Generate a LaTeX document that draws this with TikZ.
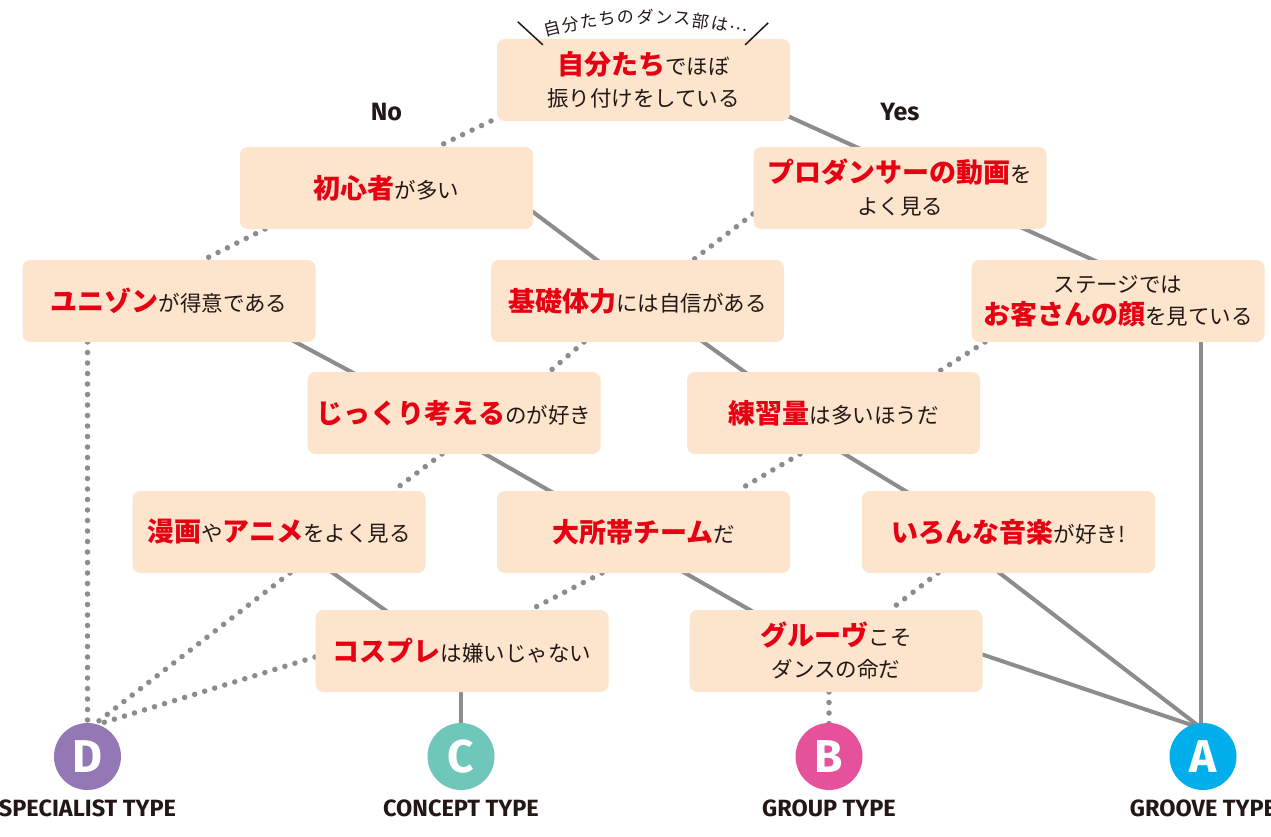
\documentclass[tikz,border=0pt]{standalone}
\usepackage{fontspec}
\setmainfont{Fira Sans}
\newfontfamily\jp{Noto Sans CJK JP}
\newfontfamily\din{Fira Sans}
\usetikzlibrary{calc,backgrounds}
\definecolor{jred}{HTML}{E60012}
\definecolor{jink}{HTML}{231815}
\definecolor{boxfill}{HTML}{FCE4CD}
\definecolor{lgray}{HTML}{8C8C8C}
\definecolor{cD}{HTML}{9478B6}
\definecolor{cC}{HTML}{6FC7B9}
\definecolor{cB}{HTML}{E5529B}
\definecolor{cA}{HTML}{00AEEB}
\newcommand\redtxt[1]{{\color{jred}\bfseries\fontsize{27}{32}\selectfont #1}}
\tikzset{
  qbox/.style={fill=boxfill, rounded corners=8pt, minimum width=293pt, minimum height=82pt,
    inner sep=0pt, align=center, text=jink, font=\jp\fontsize{21.5}{32}\selectfont},
  soll/.style={draw=lgray, line width=4pt},
  dotl/.style={draw=lgray, line width=5.5pt, line cap=round, dash pattern=on 0pt off 10.5pt},
  typecirc/.style={circle, minimum size=67pt, inner sep=0pt, text=white, font=\din\bfseries\fontsize{46}{46}\selectfont},
  typelbl/.style={text=jink, font=\din\bfseries\fontsize{23.5}{24}\selectfont, inner sep=0pt},
  yn/.style={text=jink, font=\din\bfseries\fontsize{25}{25}\selectfont, inner sep=0pt},
  arcch/.style={text=jink, font=\jp\fontsize{17}{17}\selectfont, inner sep=0pt},
  tick/.style={draw=jink, line width=1.5pt}
}
\begin{document}
\begin{tikzpicture}[x=1pt,y=-1pt]
\useasboundingbox (0,0) rectangle (1271,837);

% question boxes
\node[qbox] (b1) at (643.5,80) {\redtxt{自分たち}でほぼ\\振り付けをしている};
\node[qbox] (b2) at (386.5,188) {\redtxt{初心者}が多い};
\node[qbox] (b3) at (900,188) {\redtxt{プロダンサーの動画}を\\よく見る};
\node[qbox] (b4) at (169,301) {\redtxt{ユニゾン}が得意である};
\node[qbox] (b5) at (637.5,301) {\redtxt{基礎体力}には自信がある};
\node[qbox] (b6) at (1118,301) {ステージでは\\\redtxt{お客さんの顔}を見ている};
\node[qbox] (b7) at (454,413) {\redtxt{じっくり考える}のが好き};
\node[qbox] (b8) at (833.5,413) {\redtxt{練習量}は多いほうだ};
\node[qbox] (b9) at (279,532) {\redtxt{漫画}や\redtxt{アニメ}をよく見る};
\node[qbox] (b10) at (643.5,532) {\redtxt{大所帯チーム}だ};
\node[qbox] (b11) at (1008.5,532) {\redtxt{いろんな音楽}が好き!};
\node[qbox] (b12) at (462,651) {\redtxt{コスプレ}は嫌いじゃない};
\node[qbox] (b13) at (836,651) {\redtxt{グルーヴ}こそ\\ダンスの命だ};

% result circles
\node[typecirc, fill=cD] (D) at (87.5,756.5) {D};
\node[typecirc, fill=cC] (C) at (461,756.5) {C};
\node[typecirc, fill=cB] (B) at (829,756.5) {B};
\node[typecirc, fill=cA] (A) at (1203,756.5) {A};
\node[typelbl] (lD) at (87.5,808) {SPECIALIST TYPE};
\node[typelbl] (lC) at (461,808) {CONCEPT TYPE};
\node[typelbl] (lB) at (829,808) {GROUP TYPE};
\node[typelbl] (lA) at (1203,808) {GROOVE TYPE};

% No / Yes
\node[yn] (no) at (386.5,112) {No};
\node[yn] (yes) at (900,112) {Yes};

% arc heading
\foreach \c [count=\i] in {自,分,た,ち,の,ダ,ン,ス,部,は,…} {
  \pgfmathsetmacro\t{(\i-6)*2.8}
  \node[arcch, rotate=-\t] (arc\i) at ({645+385*sin(\t)},{402-385*cos(\t)}) {\c};
}
\draw[tick] ($(b1.north west)+(21,-17)$) -- ($(b1.north west)+(46,6)$);
\draw[tick] ($(b1.north east)+(-22,-16)$) -- ($(b1.north east)+(-45,6)$);

\begin{pgfonlayer}{background}
\fill[white] (0,0) rectangle (1271,837);
\draw[dotl] ($(b1)+(-152.5,41)$) -- ($(b2)+(50.5,-41)$);
\draw[soll] ($(b1)+(137.5,33)$) -- ($(b3)+(-35,-37)$);
\draw[dotl] ($(b2)+(-121.5,41)$) -- ($(b4)+(34,-41)$);
\draw[soll] ($(b2)+(138.5,18)$) -- ($(b5)+(-32.5,-35)$);
\draw[dotl] ($(b3)+(-147,26)$) -- ($(b5)+(55.5,-41)$);
\draw[soll] ($(b3)+(118,38)$) -- ($(b6)+(-18,-38)$);
\draw[soll] ($(b4)+(119,37)$) -- ($(b7)+(-95,-37)$);
\draw[dotl] ($(b4)+(-81.5,41)$) -- ($(D)+(0,-33)$);
\draw[dotl] ($(b5)+(-53.5,41)$) -- ($(b7)+(95,-41)$);
\draw[soll] ($(b5)+(57.5,35)$) -- ($(b8)+(-80.5,-35)$);
\draw[dotl] ($(b6)+(-133,41)$) -- ($(b8)+(104.5,-41)$);
\draw[soll] ($(b6)+(83,30)$) -- ($(A)+(-2,-31)$);
\draw[dotl] ($(b7)+(-12,41)$) -- ($(b9)+(114,-41)$);
\draw[soll] ($(b7)+(24,37)$) -- ($(b10)+(-86.5,-37)$);
\draw[dotl] ($(b8)+(-33.5,41)$) -- ($(b10)+(93.5,-41)$);
\draw[soll] ($(b8)+(4.5,37)$) -- ($(b11)+(-96.5,-37)$);
\draw[dotl] ($(b9)+(11,41)$) -- ($(D)+(8,-33)$);
\draw[soll] ($(b9)+(47,36)$) -- ($(b12)+(-70,-36)$);
\draw[dotl] ($(b10)+(-41.5,41)$) -- ($(b12)+(68,-41)$);
\draw[soll] ($(b10)+(34.5,37)$) -- ($(b13)+(-79,-37)$);
\draw[dotl] ($(b11)+(-70.5,41)$) -- ($(b13)+(54,-41)$);
\draw[soll] ($(b11)+(-15.5,36)$) -- ($(A)+(-5,-31)$);
\draw[dotl] ($(b12)+(-147,6)$) -- ($(D)+(13,-33)$);
\draw[soll] ($(b12)+(-1,30)$) -- ($(C)+(0,-30)$);
\draw[dotl] ($(b13)+(-7,41)$) -- ($(B)+(0,-33)$);
\draw[soll] ($(b13)+(139,1)$) -- ($(A)+(-7,-30)$);
\end{pgfonlayer}
\end{tikzpicture}
\end{document}
